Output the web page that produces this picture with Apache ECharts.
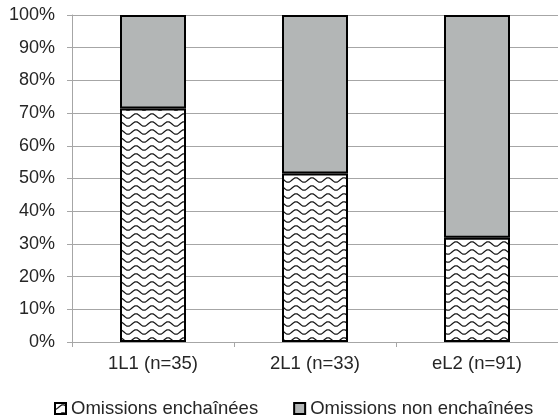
<!DOCTYPE html>
<html>
<head>
<meta charset="utf-8">
<script src="https://cdn.jsdelivr.net/npm/echarts@6/dist/echarts.min.js"></script>
<style>
html,body{margin:0;padding:0;background:#fff;}
#chart{width:558px;height:420px;}
</style>
</head>
<body>
<div id="chart"></div>
<script>
const categories = ['1L1 (n=35)', '2L1 (n=33)', 'eL2 (n=91)'];
const seriesNames = ['Omissions enchaînées', 'Omissions non enchaînées'];
const enchainees = [71.4, 51.5, 31.9];
const nonEnchainees = [28.6, 48.5, 68.1];
const yTicks = [0, 10, 20, 30, 40, 50, 60, 70, 80, 90, 100];

function wavePattern() {
  const c = document.createElement('canvas');
  c.width = 16; c.height = 8;
  const ctx = c.getContext('2d');
  ctx.fillStyle = '#ffffff';
  ctx.fillRect(0, 0, 16, 8);
  ctx.strokeStyle = '#1a1a1a';
  ctx.lineWidth = 1.3;
  for (let off = -8; off <= 8; off += 8) {
    ctx.beginPath();
    for (let x = -1; x <= 17; x += 0.5) {
      const y = 4 + off + 2.2 * Math.cos((x / 16) * 2 * Math.PI);
      if (x === -1) ctx.moveTo(x, y); else ctx.lineTo(x, y);
    }
    ctx.stroke();
  }
  return c;
}

const chart = echarts.init(document.getElementById('chart'), null, {renderer: 'canvas'});
const textColor = '#262626';
const gridColor = '#a6a6a6';
chart.setOption({
  animation: false,
  textStyle: {fontFamily: 'Liberation Sans, Arial, sans-serif'},
  grid: {left: 72, right: -6, top: 15, bottom: 78, containLabel: false},
  legend: {
    data: seriesNames,
    left: 49, top: 394,
    icon: 'rect', itemWidth: 11, itemHeight: 11, itemGap: 35,
    textStyle: {fontSize: 18.5, color: textColor}
  },
  xAxis: {
    type: 'category', data: categories,
    axisLine: {lineStyle: {color: gridColor, width: 1}},
    axisTick: {show: true, length: 5, lineStyle: {color: gridColor}},
    axisLabel: {fontSize: 18.5, color: textColor, margin: 12}
  },
  yAxis: {
    type: 'value', min: yTicks[0], max: yTicks[yTicks.length - 1], interval: 10,
    axisLine: {show: true, lineStyle: {color: gridColor, width: 1}},
    axisTick: {show: true, length: 5, lineStyle: {color: gridColor}},
    splitLine: {lineStyle: {color: gridColor, width: 1}},
    axisLabel: {fontSize: 18, color: textColor, margin: 17, formatter: '{value}%'}
  },
  series: [
    {
      name: seriesNames[0], type: 'bar', stack: 'total', data: enchainees,
      barWidth: 66,
      itemStyle: {color: {image: wavePattern(), repeat: 'repeat'}, borderColor: '#000', borderWidth: 2}
    },
    {
      name: seriesNames[1], type: 'bar', stack: 'total', data: nonEnchainees,
      barWidth: 66,
      itemStyle: {color: '#b3b6b6', borderColor: '#000', borderWidth: 2}
    }
  ]
});
</script>
</body>
</html>
